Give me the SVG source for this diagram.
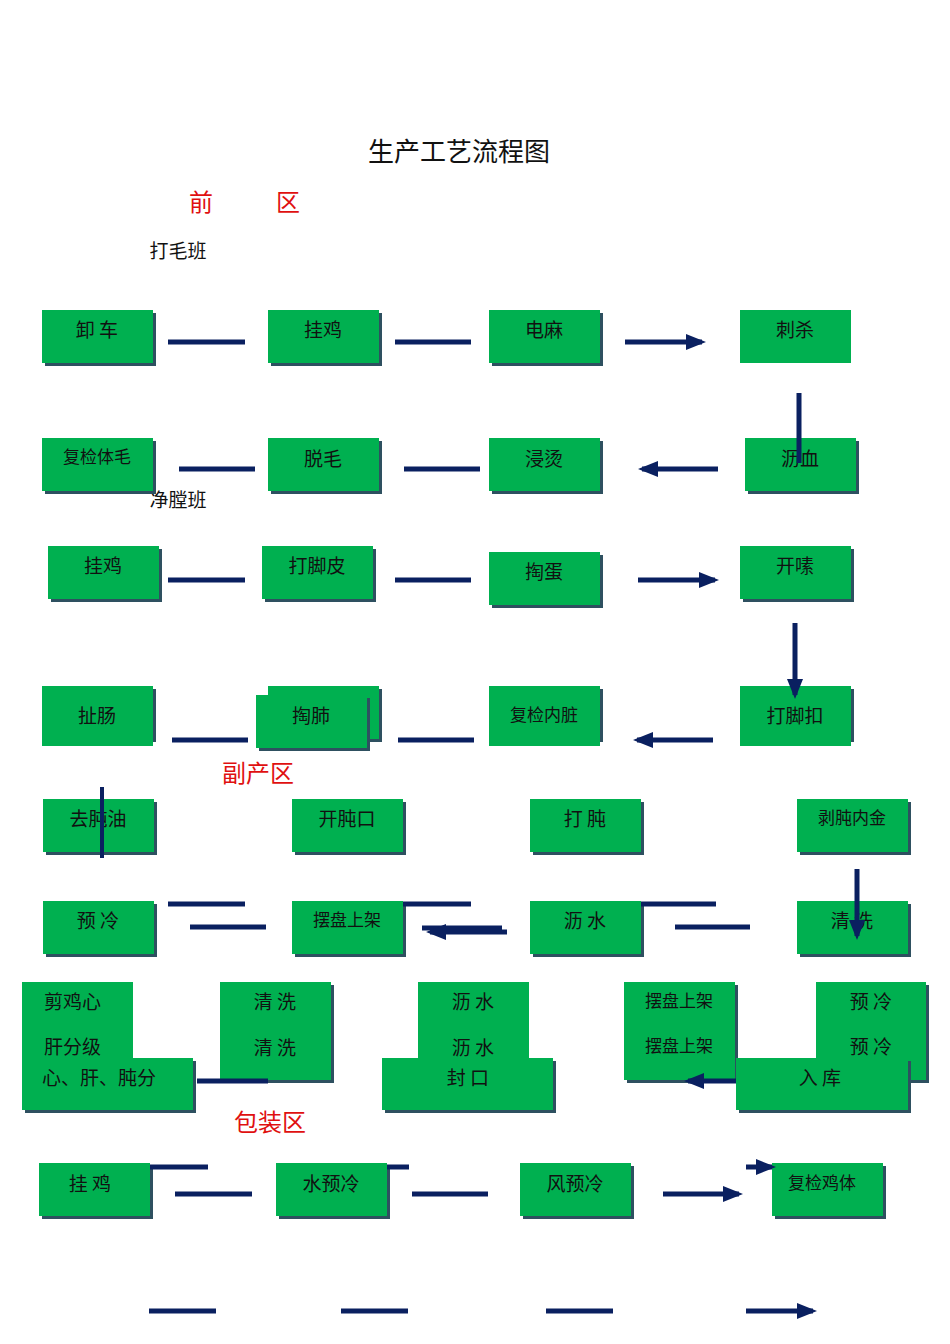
<svg xmlns="http://www.w3.org/2000/svg" width="950" height="1344" viewBox="0 0 950 1344">
<style>
text{font-family:"Noto Sans CJK SC","Liberation Sans",sans-serif;font-size:19px;text-anchor:middle;fill:#111}
.b{fill:#00b050}
.s{fill:#2e5060}
.t{font-size:26px}
.r{fill:#e01010;font-size:24px}
.l{text-anchor:start}
.a{stroke:#0a2060;stroke-width:5;fill:none;marker-end:url(#m)}
</style>
<defs>
<marker id="m" markerWidth="4" markerHeight="4" refX="3.2" refY="2" orient="auto" markerUnits="strokeWidth"><path d="M0,0.4L4,2L0,3.6Z" fill="#0a2060"/></marker>
<g id="box"><rect class="s" x="3" y="3" width="111" height="53"/><rect class="b" width="111" height="53"/></g>
</defs>
<rect width="950" height="1344" fill="#fff"/>
<text class="t" x="459" y="161">生产工艺流程图</text>
<text class="r t" x="201" y="211" style="fill:#e01010">前</text>
<text class="r t" x="288" y="211" style="fill:#e01010">区</text>
<text x="178" y="258">打毛班</text>
<text x="178" y="507">净膛班</text>
<text class="r" x="258" y="782">副产区</text>
<text class="r" x="270" y="1131">包装区</text>
<g id="n1"><use href="#box" x="42" y="310"/><text x="97" y="337">卸  车</text></g>
<g id="n2"><use href="#box" x="268" y="310"/><text x="323" y="337">挂鸡</text></g>
<g id="n3"><use href="#box" x="489" y="310"/><text x="544" y="337">电麻</text></g>
<g id="n4"><rect class="b" x="740" y="310" width="111" height="53"/><text x="795" y="337">刺杀</text></g>
<g id="n5"><use href="#box" x="42" y="438"/><text x="97" y="463" style="font-size:17px">复检体毛</text></g>
<g id="n6"><use href="#box" x="268" y="438"/><text x="323" y="466">脱毛</text></g>
<g id="n7"><use href="#box" x="489" y="438"/><text x="544" y="466">浸烫</text></g>
<g id="n8"><use href="#box" x="745" y="438"/><text x="800" y="466">沥血</text></g>
<g id="n9"><use href="#box" x="48" y="546"/><text x="103" y="573">挂鸡</text></g>
<g id="n10"><use href="#box" x="262" y="546"/><text x="317" y="573">打脚皮</text></g>
<g id="n11"><use href="#box" x="489" y="552"/><text x="544" y="579">掏蛋</text></g>
<g id="n12"><use href="#box" x="740" y="546"/><text x="795" y="573">开嗉</text></g>
<g id="n13"><use href="#box" x="42" y="686"/><rect class="b" x="42" y="686" width="111" height="60"/><text x="97" y="723">扯肠</text></g>
<g id="n14"><use href="#box" x="268" y="686"/><rect class="s" x="259" y="698" width="111" height="53"/><rect class="b" x="256" y="695" width="111" height="53"/><text x="311" y="723">掏肺</text></g>
<g id="n15"><use href="#box" x="489" y="686"/><rect class="b" x="489" y="686" width="111" height="60"/><text x="544" y="721" style="font-size:17px">复检内脏</text></g>
<g id="n16"><use href="#box" x="740" y="686"/><rect class="b" x="740" y="686" width="111" height="60"/><text x="795" y="723">打脚扣</text></g>
<g id="n17"><use href="#box" x="43" y="799"/><text x="98" y="826">去肫油</text></g>
<g id="n18"><use href="#box" x="292" y="799"/><text x="347" y="826">开肫口</text></g>
<g id="n19"><use href="#box" x="530" y="799"/><text x="585" y="826">打  肫</text></g>
<g id="n20"><use href="#box" x="797" y="799"/><text x="852" y="824" style="font-size:17px">剥肫内金</text></g>
<g id="n21"><use href="#box" x="43" y="901"/><text x="98" y="928">预  冷</text></g>
<g id="n22"><use href="#box" x="292" y="901"/><text x="347" y="926" style="font-size:17px">摆盘上架</text></g>
<g id="n23"><use href="#box" x="530" y="901"/><text x="585" y="928">沥  水</text></g>
<g id="n24"><use href="#box" x="797" y="901"/><text x="852" y="928">清  洗</text></g>
<g id="n25"><rect class="b" x="22" y="982" width="111" height="100"/><rect class="s" x="25" y="1061" width="171" height="52"/><rect class="b" x="22" y="1058" width="171" height="52"/><text class="l" x="44" y="1009">剪鸡心</text><text class="l" x="44" y="1054">肝分级</text><text class="l" x="42" y="1085">心、肝、肫分</text></g>
<g id="n26"><rect class="s" x="223" y="985" width="111" height="98"/><rect class="b" x="220" y="982" width="111" height="98"/><text x="275" y="1009">清  洗</text><text x="275" y="1055">清  洗</text></g>
<g id="n27"><rect class="b" x="418" y="982" width="111" height="98"/><rect class="s" x="385" y="1061" width="171" height="52"/><rect class="b" x="382" y="1058" width="171" height="52"/><text x="473" y="1009">沥  水</text><text x="473" y="1055">沥  水</text><text x="468" y="1085">封      口</text></g>
<g id="n28"><rect class="s" x="627" y="985" width="111" height="98"/><rect class="b" x="624" y="982" width="111" height="98"/><text x="679" y="1007" style="font-size:17px">摆盘上架</text><text x="679" y="1052" style="font-size:17px">摆盘上架</text></g>
<g id="n29"><rect class="s" x="819" y="985" width="110" height="98"/><rect class="b" x="816" y="982" width="110" height="98"/><rect class="s" x="739" y="1061" width="172" height="52"/><rect class="b" x="736" y="1058" width="172" height="52"/><text x="871" y="1009">预  冷</text><text x="871" y="1054">预  冷</text><text x="820" y="1085">入      库</text></g>
<g id="n30"><use href="#box" x="39" y="1163"/><text x="90" y="1191">挂  鸡</text></g>
<g id="n31"><use href="#box" x="276" y="1163"/><text x="331" y="1191">水预冷</text></g>
<g id="n32"><use href="#box" x="520" y="1163"/><text x="575" y="1191">风预冷</text></g>
<g id="n33"><use href="#box" x="772" y="1163"/><text x="822" y="1189" style="font-size:17px">复检鸡体</text></g>
<g id="connectors">
<path class="a" d="M168 342H245M395 342H471M625 342H702"/>
<path class="a" d="M255 469H179M480 469H404M718 469H642"/>
<path class="a" d="M799 393V463M795 623V695"/>
<path class="a" d="M168 580H245M395 580H471M638 580H715"/>
<path class="a" d="M248 740H172M474 740H398M713 740H637"/>
<path d="M102 787V858" stroke="#0a2060" stroke-width="4"/>
<path class="a" d="M168 904H245M403 904H471M641 904H716M190 927H266M675 927H750M422 928H502M507 932H430"/>
<path class="a" d="M857 869V936"/>
<path class="a" d="M268 1081H197M736 1081H688"/>
<path class="a" d="M150 1167H208M387 1167H409M746 1167H772"/>
<path class="a" d="M175 1194H252M412 1194H488M663 1194H739"/>
<path class="a" d="M149 1311H216M341 1311H408M546 1311H613M746 1311H813"/>
</g>
</svg>
